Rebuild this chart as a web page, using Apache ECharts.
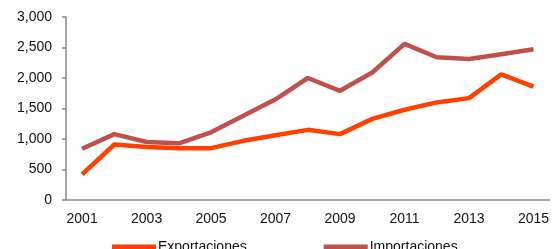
<!DOCTYPE html>
<html>
<head>
<meta charset="utf-8">
<script src="https://cdn.jsdelivr.net/npm/echarts@6/dist/echarts.min.js"></script>
<style>
  html, body { margin: 0; padding: 0; background: #fff; }
  #main { width: 552px; height: 249px; }
</style>
</head>
<body>
<div id="main"></div>
<script>
// años
const years = ['2001', '2002', '2003', '2004', '2005', '2006', '2007', '2008',
               '2009', '2010', '2011', '2012', '2013', '2014', '2015']
// series
const exportaciones = [420, 910, 870, 850, 850, 970, 1060, 1150, 1080, 1330, 1480, 1600, 1670, 2060, 1860]
const importaciones = [840, 1080, 950, 930, 1110, 1380, 1650, 2000, 1790, 2090, 2560, 2340, 2310, 2390, 2470]
const seriesNames = ['Exportaciones', 'Importaciones']

const axisColor = '#898989'
const font = 'Liberation Sans, Arial, sans-serif'

const chart = echarts.init(document.getElementById('main'))
chart.setOption({
  animation: false,
  grid: { left: 66, right: 1, top: 17, bottom: 49 },
  legend: {
    data: seriesNames,
    left: 107,
    top: 235,
    icon: 'rect',
    itemWidth: 44,
    itemHeight: 5,
    itemGap: 77,
    textStyle: { fontFamily: font, fontSize: 14, color: '#111', padding: [0, 0, 0, -3] }
  },
  xAxis: {
    type: 'category',
    data: years,
    boundaryGap: true,
    axisLine: { lineStyle: { color: axisColor, width: 1.5 } },
    axisTick: { interval: 0, length: 5, lineStyle: { color: axisColor, width: 1.5 } },
    axisLabel: { interval: 1, margin: 12, fontFamily: font, fontSize: 14, color: '#111' },
    splitLine: { show: false }
  },
  yAxis: {
    type: 'value',
    min: 0,
    max: 3000,
    interval: 500,
    axisLine: { show: true, lineStyle: { color: axisColor, width: 1.5 } },
    axisTick: { show: true, length: 4, lineStyle: { color: axisColor, width: 1.5 } },
    axisLabel: {
      margin: 14,
      fontFamily: font,
      fontSize: 14,
      color: '#111',
      formatter: v => v.toLocaleString('en-US')
    },
    splitLine: { show: false }
  },
  series: [
    {
      name: seriesNames[0],
      type: 'line',
      data: exportaciones,
      showSymbol: false,
      symbol: 'none',
      itemStyle: { color: '#FF4000' },
      lineStyle: { color: '#FF4000', width: 4.5 }
    },
    {
      name: seriesNames[1],
      type: 'line',
      data: importaciones,
      showSymbol: false,
      symbol: 'none',
      itemStyle: { color: '#C0504D' },
      lineStyle: { color: '#C0504D', width: 4.5 }
    }
  ]
})
</script>
</body>
</html>
